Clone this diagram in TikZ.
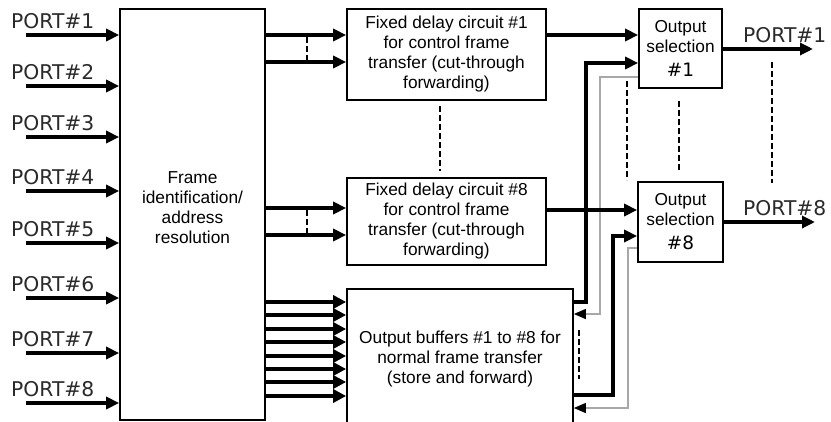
\documentclass[tikz,border=0pt]{standalone}
\usepackage{fontspec}
\setmainfont{Liberation Sans}
\newfontfamily\portfont{DejaVu Sans}
\usetikzlibrary{arrows.meta}
\definecolor{lblgray}{HTML}{2A2A2A}
\definecolor{linegray}{HTML}{A8A8A8}
\begin{document}
\begin{tikzpicture}[x=1pt,y=-1pt,
  box/.style={draw, line width=1.7pt, inner sep=0pt, align=center,
              font=\fontsize{17.3}{20}\selectfont},
  portlbl/.style={font=\portfont\fontsize{20.3}{22}\selectfont, text=lblgray, inner sep=0pt},
  arr/.style={line width=3.2pt, -{Triangle[length=13pt,width=12pt]}},
  barr/.style={line width=3.2pt, -{Triangle[length=13pt,width=13pt]}},
  thickln/.style={line width=3.2pt, line join=miter},
  grayarr/.style={line width=1.4pt, draw=linegray, line join=miter,
                  -{Triangle[length=12pt,width=10pt,color=black]}},
  dashln/.style={line width=2pt, dash pattern=on 6pt off 3pt}
]
\useasboundingbox (0,0) rectangle (831,421);

% boxes
\node[box, minimum width=145pt, minimum height=411pt,
      label={[align=center, yshift=7pt, font=\fontsize{17.3}{20}\selectfont]center:Frame\\identification/\\address\\resolution}]
      (main) at (192.5,214.5) {};
\node[box, minimum width=199pt, minimum height=91pt] (d1) at (446.5,54.5)
  {Fixed delay circuit \#1\\for control frame\\transfer (cut-through\\forwarding)};
\node[box, minimum width=199pt, minimum height=87pt] (d8) at (446.5,221.5)
  {Fixed delay circuit \#8\\for control frame\\transfer (cut-through\\forwarding)};
\node[box, minimum width=226pt, minimum height=140pt] (buf) at (460,359)
  {Output buffers \#1 to \#8 for\\normal frame transfer\\(store and forward)};
\node[box, minimum width=83pt, minimum height=79pt] (os1) at (680.5,48.5)
  {Output\\selection\\[4pt]{\portfont\fontsize{18.5}{20}\selectfont\#1}};
\node[box, minimum width=85pt, minimum height=80pt] (os8) at (680.5,222)
  {Output\\selection\\[4pt]{\portfont\fontsize{18.5}{20}\selectfont\#8}};

% input ports
\foreach \i/\y in {1/35,2/86,3/137,4/191,5/243,6/298,7/353,8/403} {
  \coordinate (p\i) at (26,\y);
  \node[portlbl, anchor=west] (pl\i) at (11,\y-14) {PORT\#\i};
  \draw[arr] (p\i) -- (p\i -| main.west);
}

% main -> delay circuits
\foreach \y in {35,62} {\draw[arr] (main.east |- 0,\y) -- (d1.west |- 0,\y);}
\foreach \y in {208,235} {\draw[arr] (main.east |- 0,\y) -- (d8.west |- 0,\y);}
\draw[dashln] (307,37) -- (307,60);
\draw[dashln] (307,210) -- (307,233);
\draw[dashln] (440,106) -- (440,171);

% main -> buffers
\foreach \y in {302,315,329,342,356,369,382,396} {
  \draw[barr] (main.east |- 0,\y) -- (buf.west |- 0,\y);
}

% gray feedback lines
\draw[grayarr] (os1.west |- 0,77) -| (600,314) -- (buf.east |- 0,314);
\draw[grayarr] (os8.west |- 0,248) -| (628,408) -- (buf.east |- 0,408);

% buffer -> output selection
\draw[thickln, -{Triangle[length=13pt,width=12pt]}] (buf.east |- 0,302) -| (586,63) -- (os1.west |- 0,63);
\draw[thickln, -{Triangle[length=13pt,width=12pt]}] (buf.east |- 0,395) -| (613,236) -- (os8.west |- 0,236);
\draw[dashln] (579,330) -- (579,379);

% delay -> output selection
\draw[arr] (d1.east |- 0,35) -- (os1.west |- 0,35);
\draw[arr] (d8.east |- 0,210) -- (os8.west |- 0,210);

% outputs
\coordinate (o1) at (813,49);
\coordinate (o8) at (815,222);
\draw[arr] (os1.east |- o1) -- (o1);
\draw[arr] (os8.east |- o8) -- (o8);
\node[portlbl, anchor=west] (ol1) at (743,35) {PORT\#1};
\node[portlbl, anchor=west] (ol8) at (743,208) {PORT\#8};

% dashed between output rows
\draw[dashln] (627,81) -- (627,180);
\draw[dashln] (679,101) -- (679,170);
\draw[dashln] (772,62) -- (772,183);
\end{tikzpicture}
\end{document}
